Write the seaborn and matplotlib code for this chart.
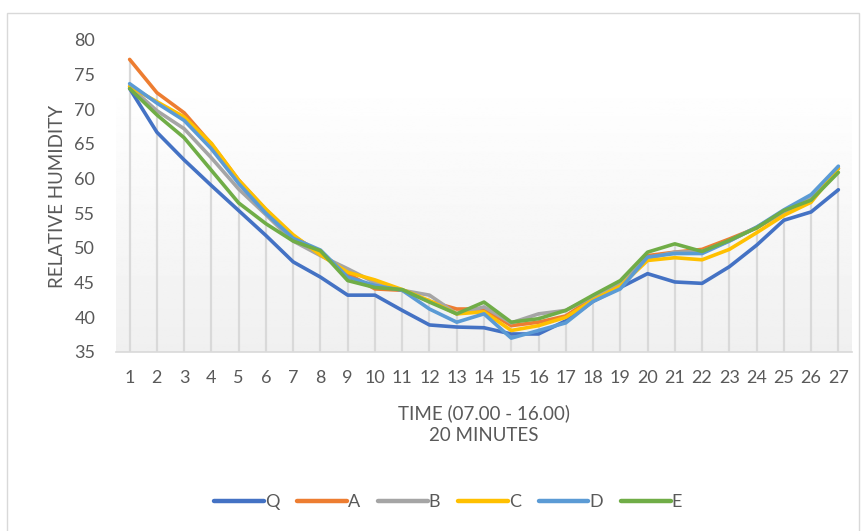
import numpy as np
import pandas as pd
import matplotlib
matplotlib.use("Agg")
import matplotlib.pyplot as plt
import seaborn as sns
from matplotlib.patches import Rectangle

time_steps = list(range(1, 28))
series_names = ["Q", "A", "B", "C", "D", "E"]

Q = [73.0, 66.7, 62.7, 59.0, 55.4, 51.8, 48.0, 45.8, 43.2, 43.2, 41.0, 38.9, 38.6, 38.5,
     37.6, 37.6, 39.5, 42.3, 44.3, 46.3, 45.1, 44.9, 47.3, 50.4, 54.0, 55.2, 58.4]
A = [77.2, 72.4, 69.5, 65.0, 59.8, 55.5, 51.7, 49.3, 46.3, 44.1, 43.9, 42.3, 41.2, 41.2,
     38.8, 39.3, 40.2, 42.8, 45.0, 48.9, 49.4, 49.8, 51.3, 52.9, 55.2, 57.2, 61.5]
B = [73.3, 69.8, 67.2, 63.0, 58.5, 54.8, 51.0, 48.9, 47.0, 45.0, 43.9, 43.2, 40.5, 41.5,
     39.2, 40.5, 41.0, 43.0, 45.0, 48.5, 49.4, 49.5, 51.0, 53.0, 55.2, 57.3, 61.5]
C = [73.3, 71.1, 68.9, 65.1, 59.8, 55.6, 51.9, 49.0, 46.5, 45.4, 44.0, 42.4, 40.5, 40.8,
     38.1, 38.8, 40.0, 42.5, 44.5, 48.2, 48.6, 48.3, 49.8, 52.2, 54.7, 56.6, 61.5]
D = [73.7, 70.9, 68.4, 64.3, 59.3, 55.0, 51.4, 49.7, 45.8, 44.6, 43.9, 41.2, 39.3, 40.5,
     37.0, 38.1, 39.2, 42.3, 44.1, 48.7, 49.2, 49.2, 51.0, 53.0, 55.5, 57.7, 61.8]
E = [73.0, 69.2, 65.9, 61.2, 56.5, 53.5, 51.0, 49.6, 45.3, 44.3, 44.0, 42.2, 40.5, 42.2,
     39.3, 39.8, 41.0, 43.2, 45.3, 49.4, 50.6, 49.5, 51.1, 52.9, 55.4, 56.9, 60.9]

y_ticks = [35, 40, 45, 50, 55, 60, 65, 70, 75, 80]
x_label = "TIME (07.00 - 16.00)\n20 MINUTES"
y_label = "RELATIVE HUMIDITY"
colors = ["#4472C4", "#ED7D31", "#A5A5A5", "#FFC000", "#5B9BD5", "#70AD47"]

series = dict(zip(series_names, [Q, A, B, C, D, E]))
df = pd.DataFrame([
    {"time": t, "series": name, "rh": v}
    for name, vals in series.items()
    for t, v in zip(time_steps, vals)
])

sns.set_theme(style="white")
plt.rcParams["font.family"] = ["Lato", "DejaVu Sans"]

fig = plt.figure(figsize=(8.68, 5.31), dpi=100)
ax = fig.add_axes([116 / 868, 1 - 352 / 531, (852 - 116) / 868, (352 - 40) / 531])

# chart border
fig.patches.append(Rectangle((7 / 868, -0.02), (859 - 7) / 868, 1.02 - 13 / 531,
                             transform=fig.transFigure, fill=False,
                             edgecolor="#d9d9d9", linewidth=1.0, zorder=0))

# gradient plot-area fill
grad = np.linspace(0.0, 1.0, 256)[:, None]
grad = 0.94 + 0.06 * np.clip(grad * 1.15, 0, 1)
ax.imshow(np.repeat(grad, 2, axis=1), cmap="gray", vmin=0, vmax=1, aspect="auto",
          extent=[0.5, 27.5, 35, 80], origin="lower", zorder=0)

# drop lines
tops = df.groupby("time")["rh"].max()
ax.vlines(tops.index, 35, tops.values, colors="#d9d9d9", linewidth=1.6, zorder=1)

sns.lineplot(data=df, x="time", y="rh", hue="series", hue_order=series_names,
             palette=colors, linewidth=2.6, ax=ax, legend=False, sort=False, zorder=3)

ax.set_xlim(0.5, 27.5)
ax.set_ylim(35, 80)
ax.set_xticks(time_steps)
ax.set_xticklabels([str(t) for t in time_steps])
ax.set_yticks(y_ticks)
ax.tick_params(axis="both", labelsize=13, labelcolor="#595959", length=0)
ax.tick_params(axis="x", pad=13)
ax.tick_params(axis="y", pad=15)
for s in ["top", "right", "left"]:
    ax.spines[s].set_visible(False)
ax.spines["bottom"].set_color("#d9d9d9")
ax.spines["bottom"].set_linewidth(1.2)

ax.set_xlabel(x_label, fontsize=13.5, color="#595959", labelpad=13, linespacing=1.35)
ax.set_ylabel(y_label, fontsize=13.5, color="#595959", labelpad=6)

handles = [plt.Line2D([], [], color=c, linewidth=3.2, solid_capstyle="round") for c in colors]
fig.legend(handles, series_names, loc="center", bbox_to_anchor=(448 / 868, 1 - 502 / 531),
           ncol=6, frameon=False, fontsize=13, handlelength=2.75, handletextpad=0.05,
           columnspacing=1.0, labelcolor="#595959")

fig.savefig("out.png", dpi=100, facecolor="white")
